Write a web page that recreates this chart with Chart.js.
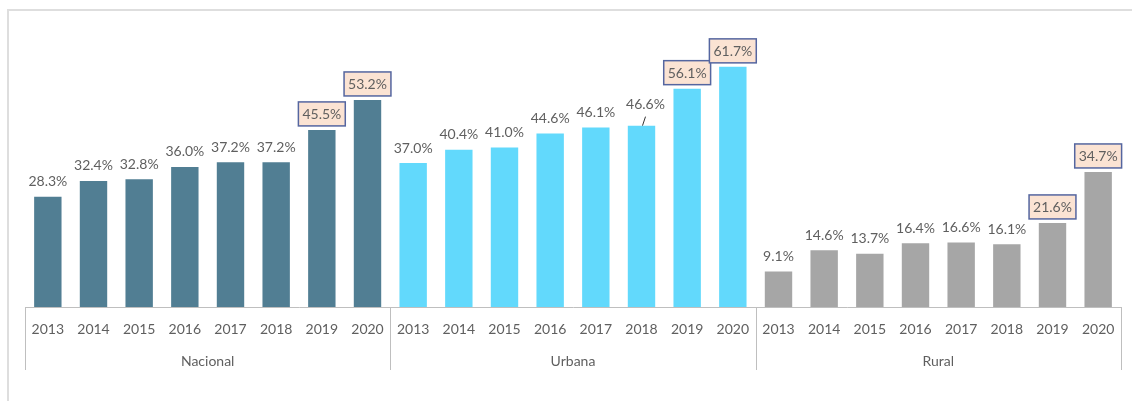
<!DOCTYPE html>
<html>
<head>
<meta charset="utf-8">
<script src="https://cdn.jsdelivr.net/npm/chart.js@4"></script>
<style>
  html, body { margin: 0; padding: 0; background: #fff; }
  #wrap { width: 1132px; height: 401px; position: relative; }
</style>
</head>
<body>
<div id="wrap"><canvas id="myChart" width="1132" height="401"></canvas></div>
<script>
// data
const groups = ['Nacional', 'Urbana', 'Rural'];
const years = ['2013', '2014', '2015', '2016', '2017', '2018', '2019', '2020'];
const nacional = [28.3, 32.4, 32.8, 36.0, 37.2, 37.2, 45.5, 53.2];
const urbana = [37.0, 40.4, 41.0, 44.6, 46.1, 46.6, 56.1, 61.7];
const rural = [9.1, 14.6, 13.7, 16.4, 16.6, 16.1, 21.6, 34.7];
const highlightYears = ['2019', '2020'];

const groupColors = ['#517e93', '#62d9fc', '#a6a6a6'];
const textColor = '#5f5f5f';
const lineColor = '#bfbfbf';
const fontFamily = 'Lato, "Open Sans", sans-serif';

const labels = [].concat(years, years, years);
const values = [].concat(nacional, urbana, rural);
const colors = [];
groups.forEach((g, gi) => years.forEach(() => colors.push(groupColors[gi])));

const framePlugin = {
    id: 'frame',
    beforeDraw(chart) {
        const ctx = chart.ctx;
        ctx.save();
        ctx.strokeStyle = '#dedede';
        ctx.lineWidth = 2;
        ctx.beginPath();
        ctx.moveTo(8, chart.height);
        ctx.lineTo(8, 10);
        ctx.lineTo(chart.width, 10);
        ctx.stroke();
        ctx.restore();
    }
};

const groupPlugin = {
    id: 'groupAxis',
    afterDraw(chart) {
        const ctx = chart.ctx;
        const x = chart.scales.x;
        const step = x.getPixelForValue(1) - x.getPixelForValue(0);
        const top = chart.chartArea.bottom;
        ctx.save();
        ctx.strokeStyle = lineColor;
        ctx.lineWidth = 1;
        for (let g = 0; g <= groups.length; g++) {
            const px = Math.round(x.getPixelForValue(g * years.length) - step / 2) + 0.5;
            ctx.beginPath();
            ctx.moveTo(px, top);
            ctx.lineTo(px, top + 63);
            ctx.stroke();
        }
        ctx.fillStyle = textColor;
        ctx.font = '14px ' + fontFamily;
        ctx.textAlign = 'center';
        ctx.textBaseline = 'middle';
        groups.forEach((g, gi) => {
            const a = x.getPixelForValue(gi * years.length);
            const b = x.getPixelForValue((gi + 1) * years.length - 1);
            ctx.fillText(g, (a + b) / 2, top + 54);
        });
        ctx.restore();
    }
};

const valueLabelPlugin = {
    id: 'valueLabels',
    afterDatasetsDraw(chart) {
        const ctx = chart.ctx;
        const meta = chart.getDatasetMeta(0);
        ctx.save();
        ctx.font = '14px ' + fontFamily;
        ctx.textAlign = 'center';
        ctx.textBaseline = 'middle';
        meta.data.forEach((bar, i) => {
            const txt = values[i].toFixed(1) + '%';
            const hi = highlightYears.includes(labels[i]);
            if (hi) {
                const w = ctx.measureText(txt).width + 8;
                const h = 24;
                const bx = bar.x - w / 2;
                const by = bar.y - 4 - h;
                ctx.fillStyle = '#fbe3d3';
                ctx.fillRect(bx, by, w, h);
                ctx.strokeStyle = '#5566a0';
                ctx.lineWidth = 1.5;
                ctx.strokeRect(bx, by, w, h);
                ctx.fillStyle = textColor;
                ctx.fillText(txt, bar.x, by + h / 2 + 1);
            } else {
                // Urbana 2018 label sits a bit higher with a leader line
                const lifted = (i === years.length + 5);
                const cy = bar.y - 15 - (lifted ? 6 : 0);
                const cx = bar.x + (lifted ? 4 : 0);
                if (lifted) {
                    ctx.strokeStyle = '#333';
                    ctx.lineWidth = 1;
                    ctx.beginPath();
                    ctx.moveTo(bar.x + 1, bar.y);
                    ctx.lineTo(bar.x + 4, bar.y - 9);
                    ctx.stroke();
                }
                ctx.fillStyle = textColor;
                ctx.fillText(txt, cx, cy);
            }
        });
        ctx.restore();
    }
};

const ctx = document.getElementById('myChart').getContext('2d');
const myChart = new Chart(ctx, {
    type: 'bar',
    data: {
        labels: labels,
        datasets: [{
            data: values,
            backgroundColor: colors,
            borderWidth: 0,
            barPercentage: 0.6,
            categoryPercentage: 1.0
        }]
    },
    options: {
        responsive: false,
        animation: false,
        layout: { padding: { left: 25, right: 11, top: 19, bottom: 0 } },
        plugins: {
            legend: { display: false },
            tooltip: { enabled: false }
        },
        scales: {
            x: {
                grid: { display: false, drawTicks: false },
                border: { display: true, color: lineColor, width: 1 },
                ticks: {
                    color: textColor,
                    font: { size: 14, family: fontFamily },
                    padding: 14,
                    maxRotation: 0,
                    autoSkip: false
                },
                afterFit(scale) { scale.height = 94; }
            },
            y: {
                display: false,
                min: 0,
                max: 74
            }
        }
    },
    plugins: [framePlugin, groupPlugin, valueLabelPlugin]
});
</script>
</body>
</html>
